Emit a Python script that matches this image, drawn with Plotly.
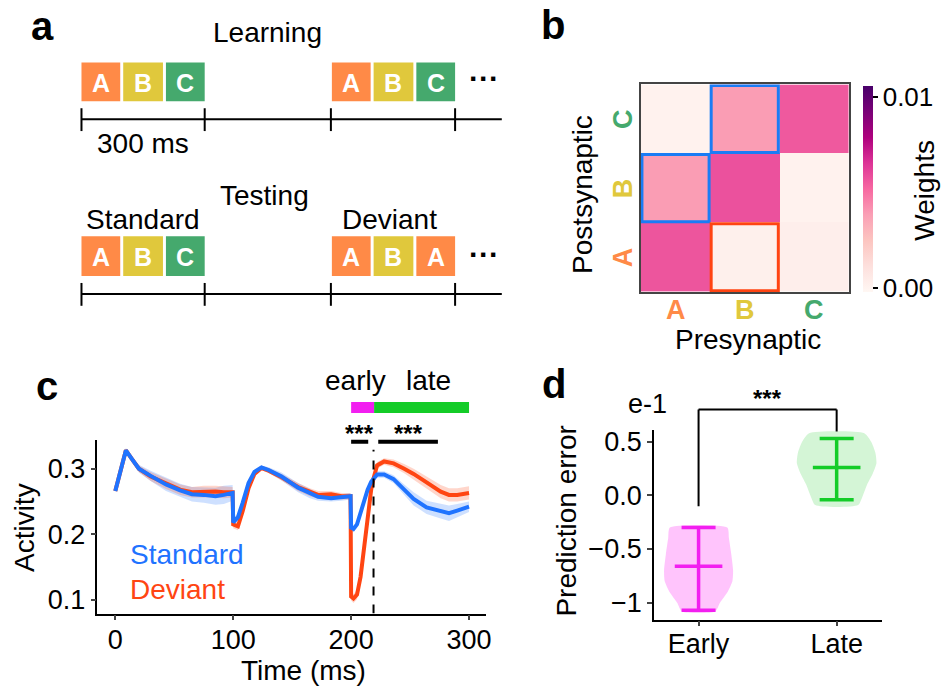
import plotly.graph_objects as go

W, H = 946, 691
FONT = "Liberation Sans, Arial, Helvetica, sans-serif"

# ---------------- data ----------------
# panel a: stimulus sequences
seq_learning = ["A", "B", "C", "A", "B", "C"]
seq_testing = ["A", "B", "C", "A", "B", "A"]
stim_colors = {"A": "#ff8a47", "B": "#e0c83c", "C": "#45a96d"}

# panel b: mean weight per block, rows = postsynaptic (A,B,C), cols = presynaptic (A,B,C)
groups = ["A", "B", "C"]
weights = [
    [0.0057, 0.0002, 0.0003],   # post A
    [0.0039, 0.0058, 0.0001],   # post B
    [0.0001, 0.0039, 0.0056],   # post C
]

# panel c: activity traces
time_ms = [0, 4, 9, 14, 20, 30, 43, 55, 65, 75, 85, 92, 99.5, 100, 104, 108, 113, 118, 124, 130,
           141, 155, 165, 172, 183, 192, 199.5, 200, 202, 205, 208, 211, 214, 217, 219, 222, 228,
           236, 245, 253, 264, 276, 283, 290, 300]
standard = [0.266, 0.295, 0.328, 0.315, 0.300, 0.289, 0.276, 0.267, 0.261, 0.260, 0.258, 0.260, 0.263,
            0.218, 0.226, 0.248, 0.278, 0.295, 0.302, 0.298, 0.288, 0.271, 0.262, 0.257, 0.255, 0.256,
            0.258, 0.210, 0.208, 0.215, 0.232, 0.252, 0.268, 0.280, 0.285, 0.291, 0.291, 0.284, 0.268,
            0.254, 0.241, 0.235, 0.232, 0.236, 0.242]
standard_err = [0.002, 0.003, 0.003, 0.004, 0.006, 0.008, 0.010, 0.010, 0.011, 0.012, 0.013, 0.014, 0.012,
                0.006, 0.005, 0.004, 0.003, 0.003, 0.003, 0.004, 0.006, 0.007, 0.007, 0.006, 0.005, 0.005,
                0.005, 0.005, 0.005, 0.005, 0.005, 0.005, 0.005, 0.005, 0.005, 0.005, 0.005, 0.006, 0.008,
                0.010, 0.010, 0.011, 0.012, 0.010, 0.008]
deviant = [0.266, 0.295, 0.328, 0.315, 0.300, 0.288, 0.277, 0.268, 0.264, 0.265, 0.265, 0.264, 0.264,
           0.215, 0.212, 0.235, 0.270, 0.292, 0.301, 0.297, 0.287, 0.272, 0.264, 0.260, 0.261, 0.258,
           0.258, 0.105, 0.102, 0.108, 0.135, 0.180, 0.225, 0.268, 0.285, 0.305, 0.311, 0.308, 0.300,
           0.292, 0.279, 0.265, 0.260, 0.260, 0.263]
deviant_err = [0.002, 0.003, 0.003, 0.004, 0.005, 0.007, 0.008, 0.008, 0.008, 0.009, 0.009, 0.009, 0.008,
               0.006, 0.006, 0.005, 0.004, 0.003, 0.003, 0.004, 0.005, 0.006, 0.006, 0.006, 0.005, 0.005,
               0.005, 0.006, 0.007, 0.007, 0.007, 0.006, 0.006, 0.005, 0.005, 0.005, 0.005, 0.006, 0.007,
               0.008, 0.009, 0.010, 0.010, 0.010, 0.010]
vline_t = 219
early_window = [200, 219.5]
late_window = [219.5, 300]
sig_early = [200, 214.5]
sig_late = [223, 273.6]
window_labels = [("early", 204), ("late", 265.5)]

# panel d: prediction error (units of 1e-1)
cats = ["Early", "Late"]
pe_mean = [-0.66, 0.26]
pe_max = [-0.30, 0.53]
pe_min = [-1.07, -0.04]
early_levels = [-0.30, -0.40, -0.55, -0.70, -0.80, -0.90, -1.00, -1.083]
early_halfw = [0.208, 0.220, 0.237, 0.250, 0.245, 0.210, 0.155, 0.120]
late_levels = [0.58, 0.50, 0.40, 0.30, 0.20, 0.10, 0.00, -0.09]
late_halfw = [0.200, 0.250, 0.280, 0.288, 0.260, 0.220, 0.190, 0.155]

# ---------------- helpers ----------------
def px(x):
    return x / W

def py(y):
    return 1 - y / H

def d2p(v, dom, rng):
    return dom[0] + (v - rng[0]) / (rng[1] - rng[0]) * (dom[1] - dom[0])

BLUE = "#1f73ff"
RED = "#ff4512"
MAG = "#f21ff0"
GRN = "#14cc28"
GROUP_COLORS = ["#ff8a47", "#e0c83c", "#45a96d"]

fig = go.Figure()
shapes = []
ann = []

def text(x, y, s, size=27, color="black", bold=False, angle=0, xanchor="center", yanchor="middle", xref="paper", yref="paper"):
    if bold:
        s = "<b>" + s + "</b>"
    ann.append(dict(x=x, y=y, xref=xref, yref=yref, text=s, showarrow=False, textangle=angle,
                    xanchor=xanchor, yanchor=yanchor,
                    font=dict(family=FONT, size=size, color=color)))

# ---------------- panel a (schematic) ----------------
box_x = [(82, 121), (124, 164), (167, 206), (334, 373), (376, 416), (419, 458)]

def draw_row(seq, y0, y1, line_y, dots_y):
    for (x0, x1), s in zip(box_x, seq):
        shapes.append(dict(type="rect", xref="paper", yref="paper", x0=px(x0), x1=px(x1),
                           y0=py(y1), y1=py(y0), fillcolor=stim_colors[s], line=dict(width=0)))
        text(px((x0 + x1) / 2), py((y0 + y1) / 2 + 1), s, size=25, color="white", bold=True)
    shapes.append(dict(type="line", xref="paper", yref="paper", x0=px(82), x1=px(505),
                       y0=py(line_y), y1=py(line_y), line=dict(color="black", width=2)))
    for tx in [82, 206, 333, 458]:
        shapes.append(dict(type="line", xref="paper", yref="paper", x0=px(tx), x1=px(tx),
                           y0=py(line_y - 11), y1=py(line_y + 12), line=dict(color="black", width=2)))
    text(px(487), py(dots_y), "···", size=30, bold=True)

draw_row(seq_learning, 60, 99, 117, 76)
draw_row(seq_testing, 235, 275, 293, 253)
text(px(269), py(30), "Learning", size=28)
text(px(144), py(142), "300 ms", size=28)
text(px(266), py(194), "Testing", size=28)
text(px(144), py(218), "Standard", size=28)
text(px(392), py(218), "Deviant", size=28)
text(px(43), py(23), "a", size=40, bold=True)

# ---------------- panel b (heatmap) ----------------
fig.add_trace(go.Heatmap(
    z=weights, x=[0, 1, 2], y=[0, 1, 2], colorscale="RdPu", zmin=-0.0002, zmax=0.0106,
    xaxis="x", yaxis="y", showscale=True,
    colorbar=dict(x=px(869), xanchor="left", xpad=0, ypad=0, thickness=10,
                  len=208 / H, lenmode="fraction", y=py(291), yanchor="bottom",
                  outlinewidth=0, tickvals=[0, 0.01], ticktext=["0.00", "0.01"],
                  ticks="outside", ticklen=5, tickwidth=1.5, tickcolor="black",
                  tickfont=dict(family=FONT, size=26, color="black")),
))
inset = 0.015
for (cx, cy, col) in [(0, 1, "#1a7cf5"), (1, 2, "#1a7cf5"), (1, 0, "#ff4412")]:
    shapes.append(dict(type="rect", xref="x", yref="y", x0=cx - 0.5 + inset, x1=cx + 0.5 - inset,
                       y0=cy - 0.5 + inset, y1=cy + 0.5 - inset, line=dict(color=col, width=3)))
for i, g in enumerate(groups):
    text(i, py(309), g, size=27, bold=True, color=GROUP_COLORS[i], xref="x")
    text(px(627), i, g, size=27, bold=True, color=GROUP_COLORS[i], angle=-90, yref="y")
text(px(753), py(339), "Presynaptic", size=28)
text(px(586), py(193), "Postsynaptic", size=28, angle=-90)
text(px(931), py(189), "Weights", size=28, angle=-90)
text(px(557), py(22), "b", size=40, bold=True)

# ---------------- panel c (activity) ----------------
for vals, err, col, fillc, name in [
    (standard, standard_err, BLUE, "rgba(31,115,255,0.22)", "Standard"),
    (deviant, deviant_err, RED, "rgba(255,69,18,0.22)", "Deviant"),
]:
    upper = [v + e for v, e in zip(vals, err)]
    lower = [v - e for v, e in zip(vals, err)]
    fig.add_trace(go.Scatter(x=time_ms + time_ms[::-1], y=upper + lower[::-1], fill="toself",
                             fillcolor=fillc, line=dict(width=0), mode="lines", hoverinfo="skip",
                             xaxis="x2", yaxis="y2", showlegend=False))
for vals, col in [(deviant, RED), (standard, BLUE)]:
    fig.add_trace(go.Scatter(x=time_ms, y=vals, mode="lines", line=dict(color=col, width=4),
                             xaxis="x2", yaxis="y2", showlegend=False))

c_dom_x = [px(98), px(489)]
c_dom_y = [py(615), py(440)]
c_rng_x = [-15.2, 314.3]
c_rng_y = [0.079, 0.344]

shapes.append(dict(type="line", xref="x2", yref="y2", x0=vline_t, x1=vline_t, y0=c_rng_y[0], y1=0.329,
                   line=dict(color="black", width=2, dash="dash")))
shapes.append(dict(type="rect", xref="x2", yref="paper", x0=early_window[0], x1=early_window[1],
                   y0=py(413), y1=py(402), fillcolor=MAG, line=dict(width=0)))
shapes.append(dict(type="rect", xref="x2", yref="paper", x0=late_window[0], x1=late_window[1],
                   y0=py(413), y1=py(402), fillcolor=GRN, line=dict(width=0)))
for seg in [sig_early, sig_late]:
    shapes.append(dict(type="line", xref="x2", yref="paper", x0=seg[0], x1=seg[1],
                       y0=py(442), y1=py(442), line=dict(color="black", width=4)))
    text((seg[0] + seg[1]) / 2, py(434), "***", size=24, bold=True, xref="x2")
for lab, tx in window_labels:
    text(tx, py(380), lab, size=28, xref="x2")
text(px(129), py(556), "Standard", size=28, color=BLUE, xanchor="left")
text(px(129), py(591), "Deviant", size=28, color=RED, xanchor="left")
text(px(24), py(528), "Activity", size=28, angle=-90)
text(px(305), py(672), "Time (ms)", size=28)
text(px(47), py(386), "c", size=40, bold=True)

# ---------------- panel d (prediction error) ----------------
d_dom_x = [px(658), px(888)]
d_dom_y = [py(621), py(430)]
d_rng_x = [-0.324, 1.331]
d_rng_y = [-1.157, 0.611]

for ci, (lev, hw, col, fillc) in enumerate([
    (early_levels, early_halfw, MAG, "rgba(255,60,245,0.30)"),
    (late_levels, late_halfw, GRN, "rgba(40,205,50,0.20)"),
]):
    xs = [ci + w for w in hw] + [ci - w for w in hw[::-1]]
    ys = lev + lev[::-1]
    fig.add_trace(go.Scatter(x=xs + [xs[0]], y=ys + [ys[0]], fill="toself", fillcolor=fillc,
                             mode="lines", line=dict(width=0, shape="spline", smoothing=0.6),
                             hoverinfo="skip", xaxis="x3", yaxis="y3", showlegend=False))
    fig.add_trace(go.Scatter(x=[ci], y=[pe_mean[ci]], mode="markers", xaxis="x3", yaxis="y3",
                             showlegend=False,
                             marker=dict(symbol="line-ew", size=34, color=col, line=dict(width=3.5, color=col)),
                             error_y=dict(type="data", symmetric=False,
                                          array=[pe_max[ci] - pe_mean[ci]],
                                          arrayminus=[pe_mean[ci] - pe_min[ci]],
                                          thickness=3.5, width=17, color=col)))

brk_low_l = d2p(-0.10, d_dom_y, d_rng_y)
brk_top = d2p(0.80, d_dom_y, d_rng_y)
brk_low_r = d2p(0.595, d_dom_y, d_rng_y)
for x0, x1, y0, y1 in [(0, 0, brk_low_l, brk_top), (0, 1, brk_top, brk_top), (1, 1, brk_top, brk_low_r)]:
    shapes.append(dict(type="line", xref="x3", yref="paper", x0=x0, x1=x1, y0=y0, y1=y1,
                       line=dict(color="black", width=2)))
text(0.5, brk_top + 11 / H, "***", size=24, bold=True, xref="x3")
text(px(652), py(404), "e-1", size=27)
text(px(570), py(522), "Prediction error", size=28, angle=-90)
text(px(558), py(384), "d", size=40, bold=True)

# ---------------- layout ----------------
common_tick = dict(tickfont=dict(family=FONT, size=27, color="black"))
fig.update_layout(
    width=W, height=H, margin=dict(l=0, r=0, t=0, b=0),
    paper_bgcolor="white", plot_bgcolor="white",
    font=dict(family=FONT, color="black"),
    showlegend=False,
    xaxis=dict(domain=[px(645), px(854)], range=[-0.5, 2.5], anchor="y",
               showticklabels=False, ticks="", showgrid=False, zeroline=False,
               showline=True, mirror=True, linecolor="#444", linewidth=1.5),
    yaxis=dict(domain=[py(291), py(82)], range=[-0.5, 2.5], anchor="x",
               showticklabels=False, ticks="", showgrid=False, zeroline=False,
               showline=True, mirror=True, linecolor="#444", linewidth=1.5),
    xaxis2=dict(domain=c_dom_x, range=c_rng_x, anchor="y2", tickvals=[0, 100, 200, 300],
                ticks="outside", ticklen=5, tickwidth=1.5, showgrid=False, zeroline=False,
                ticklabelstandoff=-4,
                showline=True, linecolor="black", linewidth=1.5, **common_tick),
    yaxis2=dict(domain=c_dom_y, range=c_rng_y, anchor="x2", tickvals=[0.1, 0.2, 0.3],
                ticktext=["0.1", "0.2", "0.3"],
                ticks="outside", ticklen=5, tickwidth=1.5, showgrid=False, zeroline=False,
                showline=True, linecolor="black", linewidth=1.5, **common_tick),
    xaxis3=dict(domain=d_dom_x, range=d_rng_x, anchor="y3", tickvals=[0, 1], ticktext=cats,
                ticks="outside", ticklen=5, tickwidth=1.5, showgrid=False, zeroline=False,
                ticklabelstandoff=-6,
                showline=True, linecolor="black", linewidth=1.5, **common_tick),
    yaxis3=dict(domain=d_dom_y, range=d_rng_y, anchor="x3", tickvals=[-1, -0.5, 0, 0.5],
                ticktext=["\u22121", "\u22120.5", "0.0", "0.5"],
                ticks="outside", ticklen=5, tickwidth=1.5, showgrid=False, zeroline=False,
                showline=True, linecolor="black", linewidth=1.5, **common_tick),
    shapes=shapes, annotations=ann,
)

fig.write_html("out.html", config={"displayModeBar": False},
               post_script="document.body.style.margin='0px';document.body.style.overflow='hidden';")
